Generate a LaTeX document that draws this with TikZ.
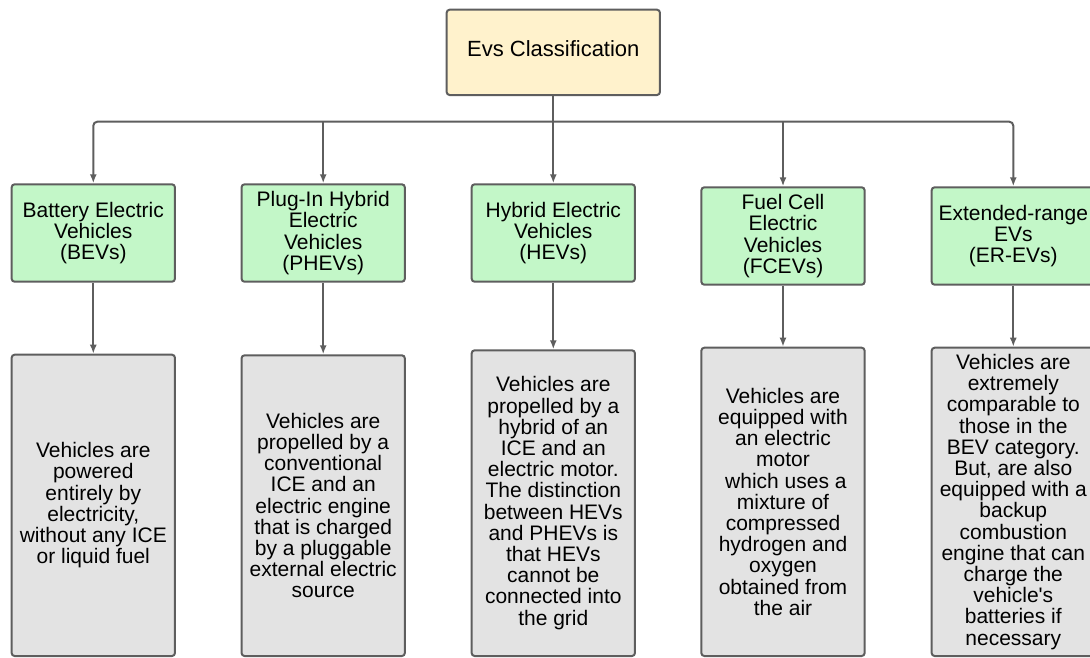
\documentclass[tikz,border=0pt]{standalone}
\usepackage{fontspec}
\setmainfont{Liberation Sans}[Ligatures=TeXOff]
\usepackage{tikz}
\usetikzlibrary{shapes,arrows.meta}
\usepackage{color}

\definecolor{headfill}{HTML}{FFF2CC}
\definecolor{kindfill}{HTML}{C3F7C8}
\definecolor{descfill}{HTML}{E3E3E3}
\definecolor{edgegray}{HTML}{5E5E5E}

\tikzset{
  box/.style={draw=edgegray, line width=2pt, rounded corners=3pt, align=center,
    inner sep=2pt, anchor=north, text=black},
  headbox/.style={box, fill=headfill, font=\fontsize{22}{24}\selectfont},
  kindbox/.style={box, fill=kindfill, font=\fontsize{21}{21.2}\selectfont},
  descbox/.style={box, fill=descfill, font=\fontsize{21}{21.2}\selectfont},
  link/.style={draw=edgegray, line width=2pt, >={Latex[length=9pt,width=7pt]}},
}

\begin{document}
\begin{tikzpicture}[x=1pt, y=-1pt]
  \path[use as bounding box, clip] (0,0) rectangle (1090,657);
  % Sizes
  \pgfmathsetmacro{\boxw}{163.3}
  \pgfmathsetmacro{\kindh}{97.4}
  \pgfmathsetmacro{\splity}{121.7}

  % top box
  \node[headbox, minimum width=213.3pt, minimum height=85.3pt, text depth=8pt] (top) at (553.3, 8.7)
    {Evs Classification};

  % vehicle types
  \node[kindbox, minimum width=\boxw pt, minimum height=\kindh pt] (bev) at (93.3, 183.3)
    {Battery Electric\\Vehicles\\(BEVs)};
  \node[kindbox, minimum width=\boxw pt, minimum height=\kindh pt] (phev) at (323.2, 183.3)
    {Plug-In Hybrid\\Electric\\Vehicles\\(PHEVs)};
  \node[kindbox, minimum width=\boxw pt, minimum height=\kindh pt] (hev) at (553.3, 183.3)
    {Hybrid Electric\\Vehicles\\(HEVs)};
  \node[kindbox, minimum width=\boxw pt, minimum height=\kindh pt] (fcev) at (783, 186.3)
    {Fuel Cell\\Electric\\Vehicles\\(FCEVs)};
  \node[kindbox, minimum width=\boxw pt, minimum height=\kindh pt] (erev) at (1013.3, 186.3)
    {Extended-range\\EVs\\(ER-EVs)};

  % descriptions
  \node[descbox, minimum width=\boxw pt, minimum height=301.3pt] (bevd) at (93.3, 353.7)
    {Vehicles are\\powered\\entirely by\\electricity,\\without any ICE\\or liquid fuel};
  \node[descbox, minimum width=\boxw pt, minimum height=300.7pt] (phevd) at (323.2, 354.3)
    {Vehicles are\\propelled by a\\conventional\\ICE and an\\electric engine\\that is charged\\by a pluggable\\external electric\\source};
  \node[descbox, minimum width=\boxw pt, minimum height=305.7pt] (hevd) at (553.3, 349.3)
    {Vehicles are\\propelled by a\\hybrid of an\\ICE and an\\electric motor.\\The distinction\\between HEVs\\and PHEVs is\\that HEVs\\cannot be\\connected into\\the grid};
  \node[descbox, minimum width=\boxw pt, minimum height=308.3pt] (fcevd) at (783, 346.7)
    {Vehicles are\\equipped with\\an electric\\motor\\\hspace*{0.278em}which uses a\\mixture of\\compressed\\hydrogen and\\oxygen\\obtained from\\the air};
  \node[descbox, minimum width=\boxw pt, minimum height=308.3pt] (erevd) at (1013.3, 346.7)
    {Vehicles are\\extremely\\comparable to\\those in the\\BEV category.\\But, are also\\equipped with a\\backup\\combustion\\engine that can\\charge the\\vehicle's\\batteries if\\necessary};

  % connectors
  \coordinate (split) at (553.3, \splity);
  \draw[link, ->] (top.south) -- (hev.north);
  \draw[link, <->, rounded corners=4pt] (bev.north) |- (split) -| (erev.north);
  \draw[link, ->] (split -| phev.north) -- (phev.north);
  \draw[link, ->] (split -| fcev.north) -- (fcev.north);
  \foreach \k in {bev, phev, hev, fcev, erev}
    \draw[link, ->] (\k.south) -- (\k d.north);
\end{tikzpicture}
\end{document}
